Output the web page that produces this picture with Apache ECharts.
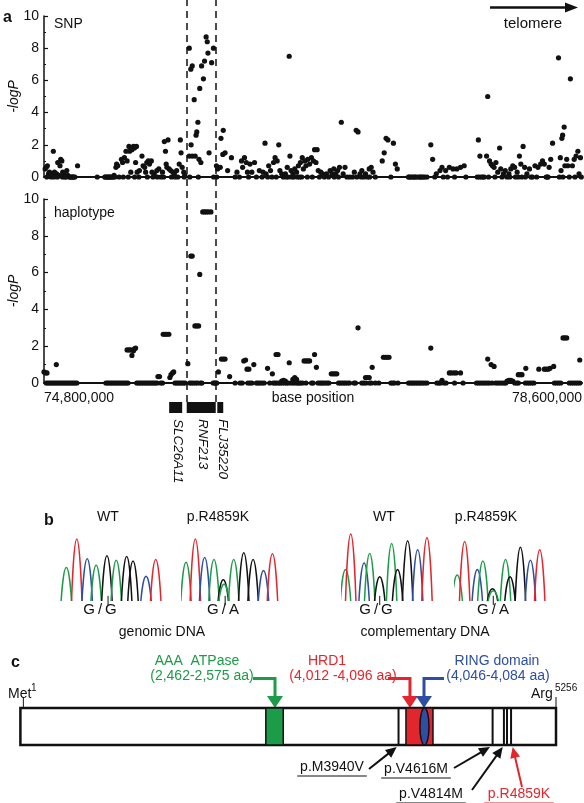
<!DOCTYPE html>
<html><head><meta charset="utf-8">
<script src="https://cdn.jsdelivr.net/npm/echarts@6/dist/echarts.min.js"></script>
<style>html,body{margin:0;padding:0;background:#fff}#c{width:584px;height:803px}</style>
</head><body><div id="c"></div>
<script>
// ---------------- DATA ----------------
// Panel a: x in Mb (chromosome 17 base position / 1e6), y = -logP
const xMinMb = 74.8, xMaxMb = 78.6;
const xTickLabels = ['74,800,000', '78,600,000'];
const boundaryMb = [75.813, 76.013];

const snpPoints = [
[74.808,0.5],[74.816,0.6],[74.824,0.7],[74.832,0.2],[74.839,0.3],[74.847,0.2],[74.855,0.1],[74.866,1.6],[74.874,0.3],[74.882,0.2],[74.889,0.2],[74.897,0.9],[74.905,0.1],[74.913,0.7],[74.918,1.1],[74.926,1.0],[74.932,0.3],[74.939,0.2],[74.961,0.4],[74.968,0.1],[75.037,0.7],
[75.295,0.1],[75.308,0.6],[75.313,0.8],[75.321,0.7],[75.347,1.1],[75.355,0.9],[75.368,1.2],[75.379,1.6],[75.387,1.0],[75.400,1.9],[75.405,1.6],[75.413,0.3],[75.421,1.7],[75.432,1.9],[75.439,1.8],[75.453,1.9],[75.447,0.9],[75.458,0.3],[75.474,0.4],[75.492,1.3],[75.500,0.7],[75.511,0.6],[75.518,0.3],[75.526,0.9],[75.537,1.0],[75.545,0.8],[75.558,1.0],[75.563,0.3],[75.579,0.2],[75.597,0.4],[75.611,0.5],[75.637,0.3],[75.650,2.2],[75.658,1.6],[75.663,0.8],[75.676,2.3],[75.668,0.6],[75.684,0.5],[75.695,0.4],[75.711,0.3],[75.721,0.2],[75.737,0.4],[75.755,0.8],[75.763,2.3],[75.768,1.5],[75.776,0.6],[75.787,0.3],[75.795,0.1],
[75.826,8.0],[75.837,6.7],[75.847,6.9],[75.861,4.8],[75.874,2.6],[75.879,2.8],[75.887,3.4],[75.900,5.5],[75.913,6.9],[75.926,6.1],[75.934,7.2],[75.945,8.7],[75.953,8.4],[75.958,7.7],[75.966,1.5],[75.984,7.1],[75.997,8.0],[75.826,1.3],[75.839,2.0],[75.847,1.3],[75.868,1.3],[75.895,1.1],[75.908,0.9],[76.018,0.7],[76.026,0.5],[76.045,0.6],[76.050,2.4],[76.066,2.9],[76.063,1.4],[76.079,1.5],[76.097,0.4],[76.124,1.2],
[76.163,0.3],[76.195,1.0],[76.203,0.6],[76.216,1.2],[76.229,0.9],[76.237,0.3],[76.255,0.8],[76.268,0.3],[76.287,0.9],[76.321,0.4],[76.347,0.3],[76.361,2.1],[76.368,0.2],[76.387,0.7],[76.400,0.4],[76.421,0.9],[76.432,1.2],[76.447,1.0],[76.458,2.0],[76.466,0.4],[76.479,0.2],[76.505,0.2],[76.518,0.6],[76.532,7.5],[76.537,1.3],[76.545,0.4],[76.558,0.2],[76.571,0.5],[76.584,0.3],[76.597,0.7],[76.611,0.9],[76.624,1.2],[76.632,0.5],[76.642,1.0],[76.650,0.7],[76.663,1.1],[76.676,0.8],[76.689,1.2],[76.703,1.0],[76.711,1.7],[76.721,0.9],[76.729,1.7],[76.737,0.4],[76.755,0.3],[76.768,0.2],[76.795,0.2],[76.821,0.4],[76.834,0.2],[76.847,0.5],[76.861,0.2],[76.874,0.4],[76.887,0.6],[76.900,3.4],[76.913,0.2],[76.926,0.6],[76.992,0.3],[77.005,2.9],[77.018,2.8],[77.032,0.2],[77.045,0.4],[77.071,0.2],[77.097,0.5],[77.111,0.6],[77.124,0.3],[77.189,1.0],[77.203,1.5],[77.216,2.4],[77.229,2.3],[77.268,2.1],[77.282,0.8],[77.295,0.5],
[77.532,2.0],[77.545,1.1],[77.571,0.2],[77.597,0.4],[77.611,0.6],[77.637,0.4],[77.663,0.6],[77.689,0.5],[77.716,0.5],[77.742,0.6],[77.768,0.7],
[77.868,2.3],[77.879,1.3],[77.926,1.3],[77.934,5.0],[77.947,1.0],[77.958,0.8],[77.968,0.7],[77.979,0.6],[77.992,0.9],[78.005,0.3],[78.018,1.8],[78.026,0.5],[78.045,0.2],[78.058,0.4],[78.084,0.2],[78.097,0.5],[78.111,0.7],[78.124,0.6],[78.142,0.3],[78.158,1.3],[78.168,0.8],[78.184,1.9],[78.195,0.6],[78.211,0.2],[78.229,0.5],[78.268,0.7],[78.289,0.6],[78.308,0.8],[78.321,1.0],[78.334,0.8],[78.368,0.6],[78.379,1.1],[78.392,2.1],[78.434,7.4],[78.447,1.2],[78.452,0.4],[78.458,2.4],[78.463,2.6],[78.474,3.1],[78.479,0.7],[78.492,1.1],[78.500,0.7],[78.518,6.1],[78.532,0.7],[78.545,1.1],[78.558,1.3],[78.571,1.6],[78.579,0.2],[78.589,1.2]
];
const snpZeroPos = [74.820,74.850,74.870,74.895,74.930,74.947,74.955,74.979,74.985,74.992,75.000,75.005,75.010,75.018,75.176,75.229,75.235,75.242,75.250,75.255,75.262,75.268,75.275,75.282,75.290,75.300,75.330,75.360,75.395,75.440,75.470,75.530,75.570,75.600,75.625,75.645,75.700,75.725,75.745,75.790,75.830,75.890,75.998,76.020,76.150,76.180,76.245,76.300,76.340,76.380,76.410,76.440,76.490,76.510,76.525,76.550,76.565,76.590,76.605,76.620,76.660,76.695,76.745,76.780,76.810,76.850,76.880,76.940,76.960,76.980,77.010,77.040,77.060,77.085,77.100,77.140,77.250,77.374,77.380,77.390,77.400,77.410,77.420,77.426,77.440,77.453,77.460,77.470,77.479,77.490,77.505,77.560,77.620,77.650,77.700,77.780,77.860,77.874,77.890,77.900,77.910,77.940,77.985,78.035,78.070,78.090,78.130,78.150,78.175,78.200,78.240,78.250,78.280,78.347,78.355,78.360,78.440,78.465,78.510,78.550,78.595];

const hapPoints = [
[74.800,0.6],[74.813,0.55],[74.821,0.55],[74.887,1.0],[75.387,1.8],[75.400,1.8],[75.413,1.8],[75.421,1.5],[75.432,1.75],[75.439,1.85],[75.447,1.9],[75.605,0.35],[75.616,0.35],[75.642,2.65],[75.655,2.65],[75.668,2.65],[75.682,2.65],[75.689,0.3],[75.697,0.45],[75.708,0.55],[75.716,0.6],
[75.816,1.05],[75.837,6.9],[75.847,6.9],[75.866,3.1],[75.879,3.1],[75.892,3.1],[75.900,5.9],[75.921,9.3],[75.934,9.3],[75.947,9.3],[75.961,9.3],[75.979,9.3],
[76.032,0.6],[76.053,1.3],[76.066,1.3],[76.079,1.3],[76.111,0.35],[76.211,1.2],[76.224,1.25],[76.234,0.75],[76.247,0.75],[76.282,1.0],[76.379,0.8],[76.413,0.5],[76.439,1.55],[76.453,1.55],[76.479,0.1],[76.492,0.15],[76.505,0.1],[76.532,1.1],[76.558,0.2],[76.571,0.3],[76.584,0.2],[76.637,1.2],[76.650,1.2],[76.663,1.2],[76.676,1.2],[76.711,1.55],[76.724,0.85],[76.829,0.5],[76.842,0.5],[76.855,0.5],[76.868,0.5],[77.018,3.0],[77.071,0.3],[77.084,0.3],[77.097,0.3],[77.118,0.85],[77.197,1.4],[77.211,1.4],[77.224,1.4],[77.237,1.4],
[77.532,1.9],[77.611,0.15],[77.663,0.55],[77.676,0.55],[77.695,0.55],[77.711,0.55],[77.742,0.55],[77.934,1.3],[77.958,1.0],[77.979,0.9],[78.071,0.1],[78.084,0.15],[78.097,0.15],[78.111,0.1],[78.150,0.45],[78.163,0.45],[78.176,0.45],[78.203,0.8],[78.295,0.75],[78.334,0.75],[78.347,0.75],[78.361,0.75],[78.374,0.8],[78.400,0.9],[78.466,2.45],[78.479,2.45],[78.492,2.45],[78.584,1.25]
];
const hapZeroPos = [74.816,74.828,74.840,74.852,74.864,74.876,74.888,74.900,74.912,74.924,74.936,74.948,74.960,74.972,74.984,74.996,75.008,75.020,75.032,
75.237,75.249,75.261,75.273,75.285,75.297,75.309,75.321,75.333,75.345,75.357,75.369,75.381,75.393,
75.455,75.467,75.479,75.491,75.503,75.515,75.527,75.539,75.551,75.563,75.575,75.587,75.599,75.625,75.637,
75.725,75.737,75.749,75.761,75.773,75.785,75.797,75.830,75.842,75.856,75.872,75.885,75.905,75.915,75.995,76.005,76.012,76.020,
76.150,76.185,76.200,76.240,76.255,76.268,76.300,76.312,76.325,76.340,76.355,76.395,76.420,76.432,76.445,76.460,76.470,76.485,76.500,76.515,76.525,76.545,76.560,76.575,76.590,76.600,76.612,76.625,76.650,76.690,76.700,76.735,76.748,76.760,76.772,76.785,76.800,76.812,76.880,76.892,76.905,76.918,76.930,76.945,76.958,76.990,77.000,77.045,77.060,77.075,77.100,77.112,77.140,77.165,77.250,77.262,77.275,77.300,
77.375,77.388,77.400,77.412,77.425,77.437,77.450,77.462,77.475,77.490,77.505,77.575,77.590,77.600,77.625,77.640,77.700,77.760,77.855,77.870,77.885,77.900,77.915,77.930,77.945,77.965,77.990,78.005,78.020,78.035,78.050,78.062,78.125,78.140,78.150,78.200,78.215,78.230,78.245,78.260,78.405,78.420,78.435,78.450,78.510,78.525,78.540,78.555,78.570,78.585];

const geneNames = ['SLC26A11', 'RNF213', 'FLJ35220'];
const geneStartMb = [75.684, 75.808, 76.024];
const geneEndMb = [75.776, 76.013, 76.066];

// Panel b: chromatogram peaks [colour, trace position, height]
const traceWtGenomic = [['g',13,90],['r',41,167],['b',69,114],['g',93,96],['k',122,122],['g',147,110],['k',175,120],['k',192,108],['b',227,67],['r',253,112]];
const traceMutGenomic = [['g',10,104],['r',35,167],['b',60,117],['g',85,112],['k',110,57],['g',112,45],['g',138,112],['k',165,130],['k',190,112],['b',218,82],['r',242,127]];
const traceWtCdna = [['g',10,85],['r',24,180],['b',60,102],['g',75,128],['k',102,65],['g',134,155],['k',150,85],['k',177,162],['b',204,138],['r',229,170]];
const traceMutCdna = [['g',6,70],['r',26,160],['b',60,85],['g',75,108],['k',101,33],['g',103,28],['g',136,112],['k',148,65],['k',176,145],['b',203,110],['r',228,138]];
const traceLength = [265, 255, 242, 243];
const traceMarker = [125, 115, 102, 103];
const traceTitles = ['WT', 'p.R4859K', 'WT', 'p.R4859K'];
const traceGenotypes = ['G/G', 'G/A', 'G/G', 'G/A'];

// Panel c: protein (aa)
const proteinLength = 5256;
const domainNames = ['AAA  ATPase', 'HRD1', 'RING domain'];
const domainRanges = ['(2,462-2,575 aa)', '(4,012 -4,096 aa)', '(4,046-4,084 aa)'];
const domainStartAa = [2409, 3784, 3921];
const domainEndAa = [2580, 4049, 4010];
const domainTipAa = [2499, 3823, 3961];
const variantNames = ['p.M3940V', 'p.V4616M', 'p.V4814M', 'p.R4859K'];
const variantLineAa = [3711, 4634, 4745, 4775, 4815];
const variantTipAa = [3693, 4608, 4733, 4831];

// ---------------- CHART ----------------
const FF = '"Liberation Sans", Arial, Helvetica, sans-serif';
const GREEN = '#1c9b48', RED = '#e3262d', BLUE = '#2d4ea3', INK = '#111111';
const chart = echarts.init(document.getElementById('c'), null, {renderer: 'canvas'});

const grids = [
  {left: 44, width: 538, top: 16, height: 161},   // 0 SNP
  {left: 44, width: 538, top: 199, height: 184},  // 1 haplotype
  {left: 44, width: 538, top: 402, height: 11},   // 2 genes
  {left: 44, width: 538, top: 0, height: 402},    // 3 dashed overlay
  {left: 61.5, width: 98.7, top: 533, height: 72.5},  // 4-7 chromatograms
  {left: 182.3, width: 95, top: 533, height: 72.5},
  {left: 341.8, width: 90, top: 533, height: 72.5},
  {left: 455, width: 90.3, top: 533, height: 72.5},
  {left: 20.4, width: 535.6, top: 708, height: 37}   // 8 protein
];

function mbAxis(gi, showLabels) {
  return {
    type: 'value', gridIndex: gi, min: xMinMb, max: xMaxMb,
    axisLine: {show: gi <= 1, onZero: false, lineStyle: {color: INK, width: 2}},
    axisTick: {show: false}, splitLine: {show: false},
    axisLabel: showLabels ? {
      show: true, customValues: [xMinMb, xMaxMb], fontSize: 14, color: INK, fontFamily: FF, margin: 8,
      alignMinLabel: 'left', alignMaxLabel: 'right',
      formatter: v => (v < 76 ? xTickLabels[0] : xTickLabels[1])
    } : {show: false},
    name: showLabels ? 'base position' : '', nameLocation: 'middle', nameGap: 8, nameMoveOverlap: false,
    nameTextStyle: {fontSize: 14, color: INK, fontFamily: FF}
  };
}
function logAxis(gi) {
  return {
    type: 'value', gridIndex: gi, min: 0, max: 10, interval: 2,
    axisLine: {show: true, lineStyle: {color: INK, width: 1.5}},
    axisTick: {show: true, inside: true, length: 4, lineStyle: {color: INK, width: 1.2}},
    minorTick: {show: true, splitNumber: 2, length: 2, lineStyle: {color: INK, width: 1.2}},
    splitLine: {show: false}, minorSplitLine: {show: false},
    axisLabel: {fontSize: 14, color: INK, fontFamily: FF, margin: 5},
    name: '-logP', nameLocation: 'middle', nameGap: 23, nameMoveOverlap: false,
    nameTextStyle: {fontSize: 14, fontStyle: 'italic', color: INK, fontFamily: FF}
  };
}
function hiddenAxis(gi, min, max) {
  return {type: 'value', gridIndex: gi, min: min, max: max, show: false, splitLine: {show: false}};
}

const xAxes = [mbAxis(0, false), mbAxis(1, true), mbAxis(2, false), mbAxis(3, false)];
const yAxes = [logAxis(0), logAxis(1), hiddenAxis(2, 0, 1), hiddenAxis(3, 0, 1)];
for (let i = 0; i < 4; i++) { xAxes.push(hiddenAxis(4 + i, 0, traceLength[i])); yAxes.push(hiddenAxis(4 + i, -12, 183)); }
xAxes.push(hiddenAxis(8, 1, proteinLength)); yAxes.push(hiddenAxis(8, 0, 1));

const series = [];
series.push({type: 'scatter', xAxisIndex: 0, yAxisIndex: 0, symbolSize: 5.2, itemStyle: {color: INK, opacity: 1},
  data: snpPoints.concat(snpZeroPos.map(p => [p, 0])), silent: true, clip: false});
series.push({type: 'scatter', xAxisIndex: 1, yAxisIndex: 1, symbolSize: 5.2, itemStyle: {color: INK, opacity: 1},
  data: hapPoints.concat(hapZeroPos.map(p => [p, 0])), silent: true, clip: false});
// dashed boundaries
series.push({type: 'line', xAxisIndex: 3, yAxisIndex: 3, data: [], silent: true,
  markLine: {silent: true, symbol: ['none', 'none'], label: {show: false},
    lineStyle: {color: INK, type: [7, 5], width: 1.5, opacity: 1}, data: boundaryMb.map(v => ({xAxis: v}))}});
// genes
series.push({type: 'custom', xAxisIndex: 2, yAxisIndex: 2, silent: true,
  data: geneNames.map((n, i) => [geneStartMb[i], geneEndMb[i], i]),
  renderItem: (params, api) => {
    const a = api.coord([api.value(0), 1]), b = api.coord([api.value(1), 0]);
    const name = geneNames[api.value(2)];
    return {type: 'group', children: [
      {type: 'rect', shape: {x: a[0], y: a[1], width: b[0] - a[0], height: b[1] - a[1]}, style: {fill: INK}},
      {type: 'text', x: (a[0] + b[0]) / 2 + 2, y: b[1] + 6, rotation: -Math.PI / 2,
        style: {text: name, font: 'italic 13.5px ' + FF, fill: INK, textAlign: 'left', align: 'left', textVerticalAlign: 'middle', verticalAlign: 'middle'}}
    ]};
  }});
// chromatograms
const traceCols = {g: GREEN, r: RED, b: BLUE, k: INK};
const PEAK_HALF = 14;
[traceWtGenomic, traceMutGenomic, traceWtCdna, traceMutCdna].forEach((tr, ti) => {
  tr.forEach(p => {
    series.push({type: 'line', xAxisIndex: 4 + ti, yAxisIndex: 4 + ti, silent: true, showSymbol: false, smooth: 0.6,
      lineStyle: {color: traceCols[p[0]], width: 1.5}, data: [[p[1] - PEAK_HALF, 0], [p[1], p[2]], [p[1] + PEAK_HALF, 0]]});
  });
  series.push({type: 'line', xAxisIndex: 4 + ti, yAxisIndex: 4 + ti, silent: true, showSymbol: false,
    lineStyle: {color: INK, width: 1}, data: [[traceMarker[ti], -11], [traceMarker[ti], 14]]});
});
// protein bar
series.push({type: 'custom', xAxisIndex: 8, yAxisIndex: 8, silent: true, data: [[1, proteinLength]],
  renderItem: (params, api) => {
    const a = api.coord([api.value(0), 1]), b = api.coord([api.value(1), 0]);
    return {type: 'rect', shape: {x: a[0], y: a[1], width: b[0] - a[0], height: b[1] - a[1]}, style: {fill: '#fff', stroke: INK, lineWidth: 2.5}};
  }});
// Met / Arg ticks
series.push({type: 'custom', xAxisIndex: 8, yAxisIndex: 8, silent: true, data: [[30], [proteinLength]],
  renderItem: (params, api) => {
    const a = api.coord([api.value(0), 1]);
    return {type: 'line', shape: {x1: a[0], y1: a[1], x2: a[0], y2: a[1] - 11}, style: {stroke: INK, lineWidth: 1}};
  }});
// variant lines
series.push({type: 'custom', xAxisIndex: 8, yAxisIndex: 8, silent: true, data: variantLineAa.map(v => [v]),
  renderItem: (params, api) => {
    const a = api.coord([api.value(0), 1]), b = api.coord([api.value(0), 0]);
    return {type: 'line', shape: {x1: a[0], y1: a[1], x2: b[0], y2: b[1]}, style: {stroke: INK, lineWidth: 2}};
  }});
// domains AAA and HRD1
const domainFill = [GREEN, RED, BLUE];
series.push({type: 'custom', xAxisIndex: 8, yAxisIndex: 8, silent: true, data: [0, 1].map(i => [domainStartAa[i], domainEndAa[i], i]),
  renderItem: (params, api) => {
    const a = api.coord([api.value(0), 1]), b = api.coord([api.value(1), 0]);
    return {type: 'rect', shape: {x: a[0], y: a[1], width: b[0] - a[0], height: b[1] - a[1]}, style: {fill: domainFill[api.value(2)], stroke: INK, lineWidth: 1.5}};
  }});
// RING ellipse
series.push({type: 'custom', xAxisIndex: 8, yAxisIndex: 8, silent: true, data: [[domainStartAa[2], domainEndAa[2]]],
  renderItem: (params, api) => {
    const a = api.coord([api.value(0), 1]), b = api.coord([api.value(1), 0]);
    const cx = (a[0] + b[0]) / 2, rx = (b[0] - a[0]) / 2, ry = (b[1] - a[1]) / 2;
    const path = `M ${cx} ${a[1]} A ${rx} ${ry} 0 1 1 ${cx} ${b[1]} A ${rx} ${ry} 0 1 1 ${cx} ${a[1]} Z`;
    return {type: 'path', shape: {pathData: path}, style: {fill: BLUE, stroke: INK, lineWidth: 1.5}};
  }});

chart.setOption({
  animation: false,
  backgroundColor: '#fff',
  textStyle: {fontFamily: FF},
  grid: grids.map(g => Object.assign({containLabel: false, outerBoundsMode: 'none', show: false}, g)),
  xAxis: xAxes, yAxis: yAxes, series: series
});

// ---------- annotations (positions of tips from the protein scale) ----------
const px = aa => chart.convertToPixel({gridIndex: 8}, [aa, 0])[0];
const barTop = chart.convertToPixel({gridIndex: 8}, [1, 1])[1];
const barBot = chart.convertToPixel({gridIndex: 8}, [1, 0])[1];

function txt(x, y, s, opt) {
  opt = opt || {};
  return {type: 'text', x: x, y: y, silent: true, style: {text: s, font: (opt.weight || 'normal') + ' ' + (opt.style || 'normal') + ' ' + (opt.size || 14) + 'px ' + FF,
    fill: opt.color || INK, textAlign: opt.align || 'center', align: opt.align || 'center', textVerticalAlign: 'middle', verticalAlign: 'middle'}};
}
function head(tx, ty, fx, fy, len, hw, color) {
  const dx = tx - fx, dy = ty - fy, L = Math.hypot(dx, dy), ux = dx / L, uy = dy / L;
  const bx = tx - ux * len, by = ty - uy * len;
  return {type: 'polygon', silent: true, shape: {points: [[tx, ty], [bx - uy * hw, by + ux * hw], [bx + uy * hw, by - ux * hw]]}, style: {fill: color}};
}
function seg(x1, y1, x2, y2, color, w) {
  return {type: 'line', silent: true, shape: {x1, y1, x2, y2}, style: {stroke: color, lineWidth: w || 1}};
}

const G = [];
// panel a
G.push(txt(3, 18, 'a', {weight: 'bold', size: 16, align: 'left'}));
G.push(txt(54, 24, 'SNP', {align: 'left', size: 14}));
G.push(txt(54, 213, 'haplotype', {align: 'left', size: 14}));
G.push(seg(490, 7.5, 566, 7.5, INK, 2.5));
G.push(head(578, 7.5, 490, 7.5, 13, 5, INK));
G.push(txt(533, 24, 'telomere', {size: 15}));
// panel b
G.push(txt(44, 521, 'b', {weight: 'bold', size: 16, align: 'left'}));
const titleX = [108, 218, 384, 486];
const genoX = [100, 223, 376, 493];
traceTitles.forEach((t, i) => G.push(txt(titleX[i], 517, t, {size: 14})));
traceGenotypes.forEach((t, i) => G.push(txt(genoX[i], 610, t.split('').join('\u2009'), {size: 15})));
G.push(txt(162, 632, 'genomic DNA', {size: 14}));
G.push(txt(425, 632, 'complementary DNA', {size: 14}));
// panel c
G.push(txt(11, 663, 'c', {weight: 'bold', size: 16, align: 'left'}));
G.push(txt(8, 694, 'Met', {align: 'left', size: 14}));
G.push(txt(31, 688, '1', {align: 'left', size: 10}));
G.push(txt(531, 694, 'Arg', {align: 'left', size: 14}));
G.push(txt(555, 688, '5256', {align: 'left', size: 10}));
const domColor = [GREEN, RED, BLUE];
const domNameX = [197, 327, 497];
const domRangeX = [202, 343, 498];
const domLineFrom = [253, 388, 444];
domainNames.forEach((n, i) => {
  G.push(txt(domNameX[i], 661, n, {color: domColor[i], size: 14}));
  G.push(txt(domRangeX[i], 676, domainRanges[i], {color: domColor[i], size: 14}));
  const tx = px(domainTipAa[i]);
  G.push({type: 'polyline', silent: true, shape: {points: [[domLineFrom[i], 678.5], [tx, 678.5], [tx, barTop - 10]]}, style: {stroke: domColor[i], lineWidth: 3, fill: null, lineJoin: 'miter'}});
  G.push(head(tx, barTop, tx, barTop - 20, 12, 8, domColor[i]));
});
const varColor = [INK, INK, INK, RED];
const varTextX = [332, 416, 431, 519];
const varTextY = [767, 769, 794, 794];
const varFrom = [[369, 769], [454, 768], [472, 790], [522, 787]];
variantNames.forEach((n, i) => {
  G.push(txt(varTextX[i], varTextY[i], n, {color: varColor[i], size: 14}));
  const w = n.length * 8.2;
  G.push(seg(varTextX[i] - w / 2 - 2, varTextY[i] + 9, varTextX[i] + w / 2 + 2, varTextY[i] + 9, varColor[i], 1));
  const tx = px(variantTipAa[i]), ty = barBot + 2;
  const f = varFrom[i];
  const dx = tx - f[0], dy = ty - f[1], L = Math.hypot(dx, dy);
  G.push(seg(f[0], f[1], tx - dx / L * 9, ty - dy / L * 9, varColor[i], 2));
  G.push(head(tx, ty, f[0], f[1], 11, 5, varColor[i]));
});

chart.setOption({graphic: {elements: G}});
</script></body></html>
